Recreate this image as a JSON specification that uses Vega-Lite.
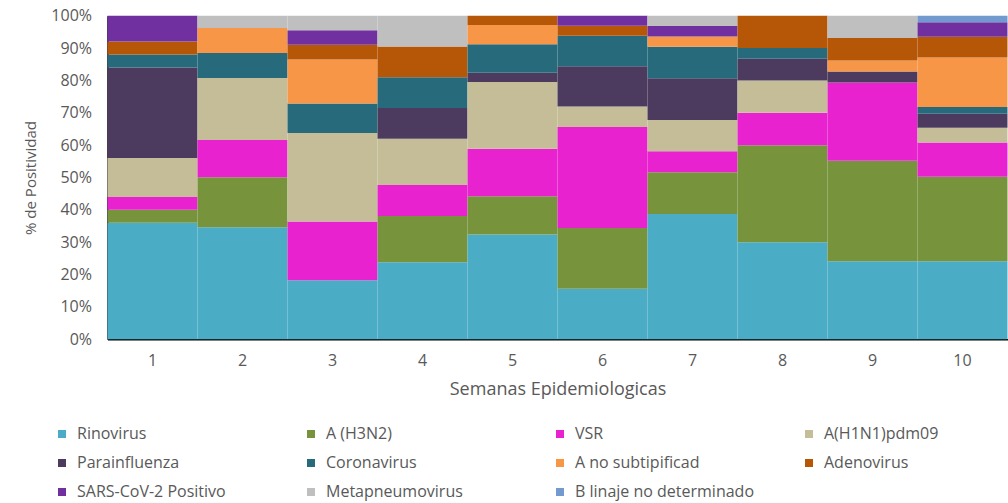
{
  "$schema": "https://vega.github.io/schema/vega-lite/v6.json",
  "width": 900,
  "height": 323.6,
  "autosize": {"type": "none"},
  "padding": {"left": 107.5, "top": 15.7, "right": 0.5, "bottom": 163.7},
  "background": "white",
  "config": {"view": {"stroke": null}, "font": "Open Sans"},
  "datasets": {
    "orden": [
      {"virus": "Rinovirus", "rank": 1},
      {"virus": "A (H3N2)", "rank": 2},
      {"virus": "VSR", "rank": 3},
      {"virus": "A(H1N1)pdm09", "rank": 4},
      {"virus": "Parainfluenza", "rank": 5},
      {"virus": "Coronavirus", "rank": 6},
      {"virus": "A no subtipificad", "rank": 7},
      {"virus": "Adenovirus", "rank": 8},
      {"virus": "SARS-CoV-2 Positivo", "rank": 9},
      {"virus": "Metapneumovirus", "rank": 10},
      {"virus": "B linaje no determinado", "rank": 11}
    ],
    "tabla": [
      {"semana": 1, "virus": "Rinovirus", "pct": 36},
      {"semana": 1, "virus": "A (H3N2)", "pct": 4},
      {"semana": 1, "virus": "VSR", "pct": 4},
      {"semana": 1, "virus": "A(H1N1)pdm09", "pct": 12},
      {"semana": 1, "virus": "Parainfluenza", "pct": 28},
      {"semana": 1, "virus": "Coronavirus", "pct": 4},
      {"semana": 1, "virus": "Adenovirus", "pct": 4},
      {"semana": 1, "virus": "SARS-CoV-2 Positivo", "pct": 8},
      {"semana": 2, "virus": "Rinovirus", "pct": 34.6},
      {"semana": 2, "virus": "A (H3N2)", "pct": 15.4},
      {"semana": 2, "virus": "VSR", "pct": 11.5},
      {"semana": 2, "virus": "A(H1N1)pdm09", "pct": 19.2},
      {"semana": 2, "virus": "Coronavirus", "pct": 7.7},
      {"semana": 2, "virus": "A no subtipificad", "pct": 7.7},
      {"semana": 2, "virus": "Metapneumovirus", "pct": 3.8},
      {"semana": 3, "virus": "Rinovirus", "pct": 18.2},
      {"semana": 3, "virus": "VSR", "pct": 18.2},
      {"semana": 3, "virus": "A(H1N1)pdm09", "pct": 27.3},
      {"semana": 3, "virus": "Coronavirus", "pct": 9.1},
      {"semana": 3, "virus": "A no subtipificad", "pct": 13.6},
      {"semana": 3, "virus": "Adenovirus", "pct": 4.5},
      {"semana": 3, "virus": "SARS-CoV-2 Positivo", "pct": 4.5},
      {"semana": 3, "virus": "Metapneumovirus", "pct": 4.5},
      {"semana": 4, "virus": "Rinovirus", "pct": 23.8},
      {"semana": 4, "virus": "A (H3N2)", "pct": 14.3},
      {"semana": 4, "virus": "VSR", "pct": 9.5},
      {"semana": 4, "virus": "A(H1N1)pdm09", "pct": 14.3},
      {"semana": 4, "virus": "Parainfluenza", "pct": 9.5},
      {"semana": 4, "virus": "Coronavirus", "pct": 9.5},
      {"semana": 4, "virus": "Adenovirus", "pct": 9.5},
      {"semana": 4, "virus": "Metapneumovirus", "pct": 9.5},
      {"semana": 5, "virus": "Rinovirus", "pct": 32.4},
      {"semana": 5, "virus": "A (H3N2)", "pct": 11.8},
      {"semana": 5, "virus": "VSR", "pct": 14.7},
      {"semana": 5, "virus": "A(H1N1)pdm09", "pct": 20.6},
      {"semana": 5, "virus": "Parainfluenza", "pct": 2.9},
      {"semana": 5, "virus": "Coronavirus", "pct": 8.8},
      {"semana": 5, "virus": "A no subtipificad", "pct": 5.9},
      {"semana": 5, "virus": "Adenovirus", "pct": 2.9},
      {"semana": 6, "virus": "Rinovirus", "pct": 15.6},
      {"semana": 6, "virus": "A (H3N2)", "pct": 18.8},
      {"semana": 6, "virus": "VSR", "pct": 31.3},
      {"semana": 6, "virus": "A(H1N1)pdm09", "pct": 6.3},
      {"semana": 6, "virus": "Parainfluenza", "pct": 12.5},
      {"semana": 6, "virus": "Coronavirus", "pct": 9.4},
      {"semana": 6, "virus": "Adenovirus", "pct": 3.1},
      {"semana": 6, "virus": "SARS-CoV-2 Positivo", "pct": 3.1},
      {"semana": 7, "virus": "Rinovirus", "pct": 38.7},
      {"semana": 7, "virus": "A (H3N2)", "pct": 12.9},
      {"semana": 7, "virus": "VSR", "pct": 6.5},
      {"semana": 7, "virus": "A(H1N1)pdm09", "pct": 9.7},
      {"semana": 7, "virus": "Parainfluenza", "pct": 12.9},
      {"semana": 7, "virus": "Coronavirus", "pct": 9.7},
      {"semana": 7, "virus": "A no subtipificad", "pct": 3.2},
      {"semana": 7, "virus": "SARS-CoV-2 Positivo", "pct": 3.2},
      {"semana": 7, "virus": "Metapneumovirus", "pct": 3.2},
      {"semana": 8, "virus": "Rinovirus", "pct": 30},
      {"semana": 8, "virus": "A (H3N2)", "pct": 30},
      {"semana": 8, "virus": "VSR", "pct": 10},
      {"semana": 8, "virus": "A(H1N1)pdm09", "pct": 10},
      {"semana": 8, "virus": "Parainfluenza", "pct": 6.7},
      {"semana": 8, "virus": "Coronavirus", "pct": 3.3},
      {"semana": 8, "virus": "Adenovirus", "pct": 10},
      {"semana": 9, "virus": "Rinovirus", "pct": 24.1},
      {"semana": 9, "virus": "A (H3N2)", "pct": 31},
      {"semana": 9, "virus": "VSR", "pct": 24.1},
      {"semana": 9, "virus": "Parainfluenza", "pct": 3.4},
      {"semana": 9, "virus": "A no subtipificad", "pct": 3.4},
      {"semana": 9, "virus": "Adenovirus", "pct": 6.9},
      {"semana": 9, "virus": "Metapneumovirus", "pct": 6.9},
      {"semana": 10, "virus": "Rinovirus", "pct": 24.1},
      {"semana": 10, "virus": "A (H3N2)", "pct": 26.1},
      {"semana": 10, "virus": "VSR", "pct": 10.6},
      {"semana": 10, "virus": "A(H1N1)pdm09", "pct": 4.6},
      {"semana": 10, "virus": "Parainfluenza", "pct": 4.3},
      {"semana": 10, "virus": "Coronavirus", "pct": 2.1},
      {"semana": 10, "virus": "A no subtipificad", "pct": 15.3},
      {"semana": 10, "virus": "Adenovirus", "pct": 6.4},
      {"semana": 10, "virus": "SARS-CoV-2 Positivo", "pct": 4.5},
      {"semana": 10, "virus": "B linaje no determinado", "pct": 2.0}
    ]
  },
  "data": {"name": "tabla"},
  "transform": [
    {"lookup": "virus", "from": {"data": {"name": "orden"}, "key": "virus", "fields": ["rank"]}}
  ],
  "mark": {"type": "bar"},
  "encoding": {
    "x": {
      "field": "semana",
      "type": "ordinal",
      "scale": {"paddingInner": 0, "paddingOuter": 0},
      "axis": {
        "title": "Semanas Epidemiologicas",
        "labelAngle": 0,
        "ticks": false,
        "domainColor": "#000000",
        "domainWidth": 1.5,
        "labelFont": "Open Sans",
        "labelFontSize": 16,
        "labelColor": "#595959",
        "labelPadding": 13,
        "titleFont": "Open Sans",
        "titleFontSize": 18,
        "titleFontWeight": "normal",
        "titleColor": "#595959",
        "titlePadding": 12
      }
    },
    "y": {
      "field": "pct",
      "type": "quantitative",
      "stack": "normalize",
      "scale": {"domain": [0, 1], "nice": false},
      "axis": {
        "title": "% de Positividad",
        "format": ".0%",
        "values": [0, 0.1, 0.2, 0.3, 0.4, 0.5, 0.6, 0.7, 0.8, 0.9, 1],
        "grid": false,
        "ticks": false,
        "domainColor": "#000000",
        "domainWidth": 1.5,
        "labelFont": "Open Sans",
        "labelFontSize": 16,
        "labelColor": "#595959",
        "labelPadding": 16,
        "titleFont": "Open Sans",
        "titleFontSize": 15,
        "titleFontWeight": "normal",
        "titleColor": "#595959",
        "titlePadding": 12
      }
    },
    "color": {
      "field": "virus",
      "type": "nominal",
      "scale": {
        "domain": ["Rinovirus", "A (H3N2)", "VSR", "A(H1N1)pdm09", "Parainfluenza", "Coronavirus", "A no subtipificad", "Adenovirus", "SARS-CoV-2 Positivo", "Metapneumovirus", "B linaje no determinado"],
        "range": ["#4BACC6", "#77933C", "#E822CF", "#C4BD97", "#4C3B5F", "#276A7C", "#F79646", "#B65708", "#7030A0", "#BFBFBF", "#729ACF"]
      },
      "legend": {
        "title": null,
        "orient": "none",
        "legendX": -53.5,
        "legendY": 410.3,
        "direction": "horizontal",
        "columns": 4,
        "gridAlign": "all",
        "columnPadding": 46,
        "rowPadding": 13,
        "padding": 0,
        "symbolType": "square",
        "symbolSize": 64,
        "symbolStrokeWidth": 0,
        "labelOffset": 7,
        "labelFont": "Open Sans",
        "labelFontSize": 16,
        "labelColor": "#595959",
        "labelLimit": 400
      }
    },
    "order": {"field": "rank", "type": "quantitative", "sort": "ascending"}
  }
}
